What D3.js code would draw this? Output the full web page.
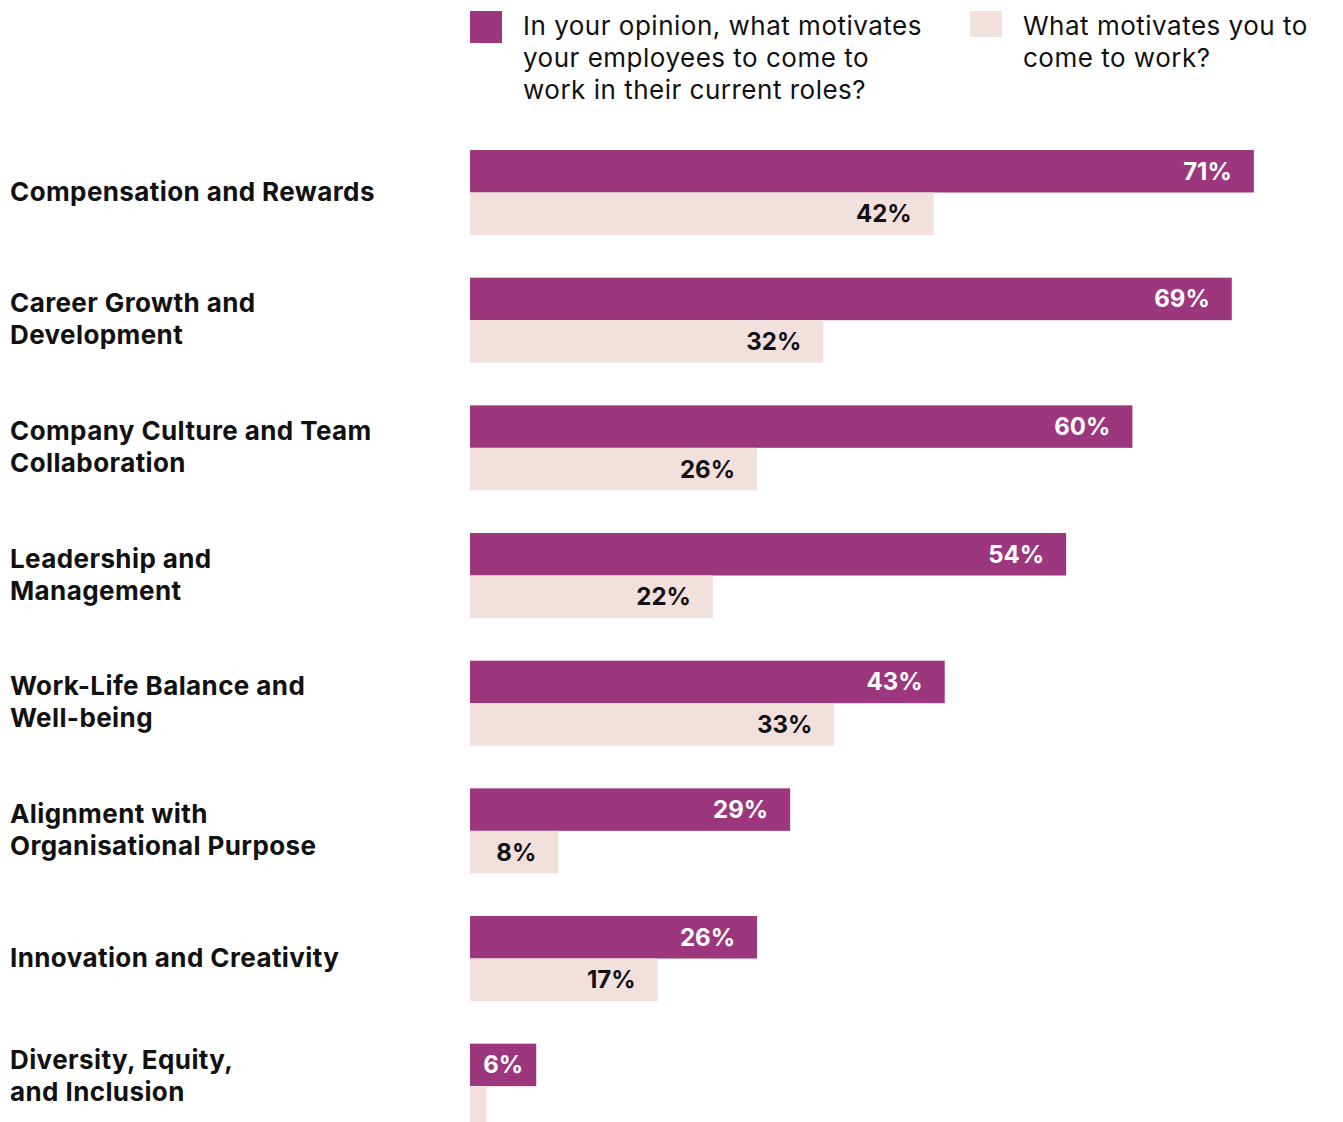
<!DOCTYPE html>
<html>
<head>
<meta charset="utf-8">
<script src="https://cdn.jsdelivr.net/npm/d3@7"></script>
<style>
  html, body { margin: 0; padding: 0; background: #fff; }
  svg { display: block; font-family: Inter, "Open Sans", sans-serif; }
</style>
</head>
<body>
<svg id="chart" width="1343" height="1122"></svg>
<script>
// Motivation drivers: managers' view vs. employees' own answer (percent)
const categories = [
  ["Compensation and Rewards"],
  ["Career Growth and", "Development"],
  ["Company Culture and Team", "Collaboration"],
  ["Leadership and", "Management"],
  ["Work-Life Balance and", "Well-being"],
  ["Alignment with", "Organisational Purpose"],
  ["Innovation and Creativity"],
  ["Diversity, Equity,", "and Inclusion"]
];
const managerView = [71, 69, 60, 54, 43, 29, 26, 6];
const employeeView = [42, 32, 26, 22, 33, 8, 17, 1.5];
const employeeLabelled = [true, true, true, true, true, true, true, false];

const seriesKeys = ["manager", "employee"];
const seriesColors = ["#9c377e", "#f2e0dd"];
const labelColors = ["#ffffff", "#111111"];
const legendLines = [
  ["In your opinion, what motivates", "your employees to come to", "work in their current roles?"],
  ["What motivates you to", "come to work?"]
];

const svg = d3.select("#chart");
const keys = categories.map(c => c.join(" "));

const x = d3.scaleLinear().domain([0, 100]).range([470, 1574]);
const y = d3.scaleBand().domain(keys).range([150, 1128.7]).paddingInner(0.334).paddingOuter(0);
const ySub = d3.scaleBand().domain(seriesKeys).range([0, y.bandwidth()]).padding(0);

const rows = categories.map((c, i) => ({
  key: keys[i], lines: c,
  bars: [
    { s: "manager", v: managerView[i], show: true },
    { s: "employee", v: employeeView[i], show: employeeLabelled[i] }
  ]
}));

// Category labels, centred on their pair of bars
const cat = svg.append("g").selectAll("text").data(rows).join("text")
  .attr("x", 10)
  .attr("y", (d, i) => y(d.key) + y.bandwidth() / 2 + 8 - 16 * (d.lines.length - 1) - (i === rows.length - 1 ? 9 : 0))
  .attr("font-size", 26).attr("font-weight", 700).attr("letter-spacing", 0.4).attr("fill", "#111");
cat.selectAll("tspan").data(d => d.lines).join("tspan")
  .attr("x", 10).attr("dy", (d, i) => i ? 32 : 0).text(d => d);

// Bars
const groups = svg.append("g").selectAll("g").data(rows).join("g")
  .attr("transform", d => `translate(0,${y(d.key)})`);

groups.selectAll("rect").data(d => d.bars).join("rect")
  .attr("x", x(0))
  .attr("y", d => ySub(d.s))
  .attr("width", d => x(d.v) - x(0))
  .attr("height", ySub.bandwidth())
  .attr("fill", d => seriesColors[seriesKeys.indexOf(d.s)]);

groups.selectAll("text").data(d => d.bars.filter(b => b.show)).join("text")
  .attr("x", d => {
    const w = x(d.v) - x(0);
    return w < 80 ? x(0) + w / 2 : x(d.v) - 22;
  })
  .attr("text-anchor", d => (x(d.v) - x(0)) < 80 ? "middle" : "end")
  .attr("y", d => ySub(d.s) + ySub.bandwidth() / 2 + 8.5)
  .attr("font-size", 24).attr("font-weight", 700)
  .attr("fill", d => labelColors[seriesKeys.indexOf(d.s)])
  .text(d => `${d.v}%`);

// Legend
const legendX = [470, 970];
const leg = svg.append("g").selectAll("g").data(seriesKeys).join("g")
  .attr("transform", (d, i) => `translate(${legendX[i]},0)`);
leg.append("rect").attr("x", 0).attr("y", 11).attr("width", 32)
  .attr("height", (d, i) => i ? 26 : 32)
  .attr("fill", (d, i) => seriesColors[i]);
const lt = leg.append("text").attr("x", 53).attr("y", 35)
  .attr("font-size", 26).attr("font-weight", 400).attr("letter-spacing", 0.5).attr("fill", "#111");
lt.selectAll("tspan").data((d, i) => legendLines[i]).join("tspan")
  .attr("x", 53).attr("dy", (d, i) => i ? 32 : 0).text(d => d);
</script>
</body>
</html>
